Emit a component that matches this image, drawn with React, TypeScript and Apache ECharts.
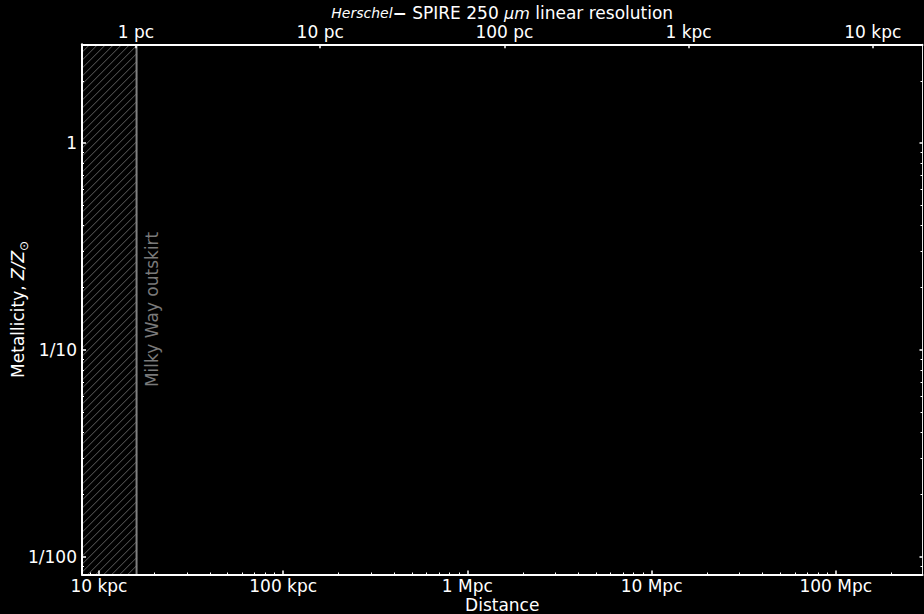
import React, { useEffect, useRef } from 'react';
import * as echarts from 'echarts';

// ---- data ----
const distanceTicksKpc = [10, 100, 1000, 10000, 100000];
const distanceTickLabels = ['10 kpc', '100 kpc', '1 Mpc', '10 Mpc', '100 Mpc'];
const resolutionTicksPc = [1, 10, 100, 1000, 10000];
const resolutionTickLabels = ['1 pc', '10 pc', '100 pc', '1 kpc', '10 kpc'];
const metallicityTicks = [1, 0.1, 0.01];
const metallicityTickLabels = ['1', '1/10', '1/100'];
const distanceRangeKpc = [8.09, 295600];
const metallicityRange = [0.0082, 3.01];
const resolutionPcPerKpc = 0.06295; // top-axis linear resolution (pc) per kpc of distance
const milkyWayOutskirtKpc = [1, 16.0]; // hatched span (distance, kpc)
const milkyWayLabel = 'Milky Way outskirt';

const L = Math.log10;
const FONT = 'DejaVu Sans';

function minorLogs(range: number[]) {
  const out: number[] = [];
  const a = L(range[0]);
  const b = L(range[1]);
  for (let e = Math.floor(a) - 1; e <= Math.ceil(b); e++) {
    for (let k = 2; k <= 9; k++) {
      const v = L(k) + e;
      if (v > a && v < b) out.push(v);
    }
  }
  return out;
}

function labelFor(values: number[], labels: string[]) {
  const logs = values.map((v) => L(v));
  return (val: number) => {
    for (let i = 0; i < logs.length; i++) {
      if (Math.abs(logs[i] - val) < 1e-6) return labels[i];
    }
    return '';
  };
}

export default function App() {
  const ref = useRef<HTMLDivElement>(null);
  useEffect(() => {
    if (!ref.current) return;
    const chart = echarts.init(ref.current, null, { renderer: 'svg' });

    const xMin = L(distanceRangeKpc[0]);
    const xMax = L(distanceRangeKpc[1]);
    const tMin = L(distanceRangeKpc[0] * resolutionPcPerKpc);
    const tMax = L(distanceRangeKpc[1] * resolutionPcPerKpc);
    const yMin = L(metallicityRange[0]);
    const yMax = L(metallicityRange[1]);

    const xMajor = distanceTicksKpc.map((v) => L(v));
    const tMajor = resolutionTicksPc.map((v) => L(v));
    const yMajor = metallicityTicks.map((v) => L(v));
    const xMinor = minorLogs(distanceRangeKpc);
    const yMinor = minorLogs(metallicityRange);

    const gridRect = { left: 82, right: 1.5, top: 44.3, bottom: 39.5 };
    const white = '#ffffff';

    const option: any = {
      animation: false,
      backgroundColor: '#000000',
      grid: [
        { ...gridRect, containLabel: false, outerBoundsMode: 'none' },
        { ...gridRect, containLabel: false, outerBoundsMode: 'none' },
      ],
      xAxis: [
        {
          gridIndex: 0,
          type: 'value',
          position: 'bottom',
          min: xMin,
          max: xMax,
          z: 5,
          axisLine: { show: true, onZero: false, lineStyle: { color: white, width: 2 } },
          axisTick: { show: true, inside: true, length: 4, customValues: xMajor, lineStyle: { color: white, width: 1.5 } },
          axisLabel: {
            show: true,
            customValues: xMajor,
            formatter: labelFor(distanceTicksKpc, distanceTickLabels),
            color: white,
            fontSize: 17,
            fontFamily: FONT,
            margin: 3,
          },
          splitLine: { show: false },
          name: 'Distance',
          nameLocation: 'middle',
          nameGap: 22,
          nameMoveOverlap: false,
          nameTextStyle: { color: white, fontSize: 17, fontFamily: FONT },
        },
        {
          gridIndex: 0,
          type: 'value',
          position: 'top',
          min: tMin,
          max: tMax,
          z: 5,
          axisLine: { show: true, onZero: false, lineStyle: { color: white, width: 2 } },
          axisTick: { show: true, inside: true, length: 4, customValues: tMajor, lineStyle: { color: white, width: 1.5 } },
          axisLabel: {
            show: true,
            customValues: tMajor,
            formatter: labelFor(resolutionTicksPc, resolutionTickLabels),
            color: white,
            fontSize: 17,
            fontFamily: FONT,
            margin: 4,
          },
          splitLine: { show: false },
          name: '{i|Herschel}{m|\u2212} {n|SPIRE 250 }{u|\u03bcm}{n| linear resolution}',
          nameLocation: 'middle',
          nameGap: 22.5,
          nameMoveOverlap: false,
          nameTextStyle: {
            color: white,
            fontSize: 17,
            fontFamily: FONT,
            rich: {
              i: { fontStyle: 'italic', fontSize: 14, color: white, fontFamily: FONT },
              m: { fontSize: 17, fontWeight: 'bold', color: white, fontFamily: FONT },
              n: { fontSize: 17, color: white, fontFamily: FONT },
              u: { fontStyle: 'italic', fontSize: 16, color: white, fontFamily: FONT },
            },
          },
        },
        {
          gridIndex: 1,
          type: 'value',
          position: 'bottom',
          min: xMin,
          max: xMax,
          z: 5,
          axisLine: { show: false, onZero: false },
          axisTick: { show: true, inside: true, length: 2, customValues: xMinor, lineStyle: { color: white, width: 1 } },
          axisLabel: { show: false },
          splitLine: { show: false },
        },
      ],
      yAxis: [
        {
          gridIndex: 0,
          type: 'value',
          position: 'left',
          min: yMin,
          max: yMax,
          z: 5,
          axisLine: { show: true, onZero: false, lineStyle: { color: white, width: 2 } },
          axisTick: { show: true, inside: true, length: 4, customValues: yMajor, lineStyle: { color: white, width: 1.5 } },
          axisLabel: {
            show: true,
            customValues: yMajor,
            formatter: labelFor(metallicityTicks, metallicityTickLabels),
            color: white,
            fontSize: 17,
            fontFamily: FONT,
            margin: 5,
          },
          splitLine: { show: false },
          name: '{n|Metallicity, }{i|Z/Z}{s|\u2299}',
          nameLocation: 'middle',
          nameGap: 56,
          nameMoveOverlap: false,
          nameRotate: 90,
          nameTextStyle: {
            color: white,
            fontSize: 17,
            fontFamily: FONT,
            rich: {
              n: { fontSize: 17, color: white, fontFamily: FONT, verticalAlign: 'bottom' },
              i: { fontSize: 17, fontStyle: 'italic', color: white, fontFamily: FONT, verticalAlign: 'bottom' },
              s: { fontSize: 12, color: white, fontFamily: FONT, verticalAlign: 'bottom', padding: [0, 0, -4, 0] },
            },
          },
        },
        {
          gridIndex: 0,
          type: 'value',
          position: 'right',
          min: yMin,
          max: yMax,
          z: 5,
          axisLine: { show: true, onZero: false, lineStyle: { color: '#e6e6e6', width: 1 } },
          axisTick: { show: true, inside: true, length: 3, customValues: yMajor, lineStyle: { color: white, width: 1.5 } },
          axisLabel: { show: false },
          splitLine: { show: false },
        },
        {
          gridIndex: 1,
          type: 'value',
          position: 'left',
          min: yMin,
          max: yMax,
          z: 5,
          axisLine: { show: false, onZero: false },
          axisTick: { show: true, inside: true, length: 2, customValues: yMinor, lineStyle: { color: white, width: 1 } },
          axisLabel: { show: false },
          splitLine: { show: false },
        },
        {
          gridIndex: 1,
          type: 'value',
          position: 'right',
          min: yMin,
          max: yMax,
          z: 5,
          axisLine: { show: false, onZero: false },
          axisTick: { show: true, inside: true, length: 2, customValues: yMinor, lineStyle: { color: white, width: 1 } },
          axisLabel: { show: false },
          splitLine: { show: false },
        },
      ],
      series: [
        {
          type: 'custom',
          xAxisIndex: 0,
          yAxisIndex: 0,
          z: 1,
          silent: true,
          data: [[L(milkyWayOutskirtKpc[0]), L(milkyWayOutskirtKpc[1]), 0]],
          encode: { x: [0, 1], y: 2 },
          renderItem: (params: any, api: any) => {
            const cs = params.coordSys;
            const xa = Math.max(api.coord([api.value(0), 0])[0], cs.x);
            const xb = api.coord([api.value(1), 0])[0];
            const y0 = cs.y;
            const y1 = cs.y + cs.height;
            const children: any[] = [];
            const step = 8;
            for (let c = xa + y0 - step; c <= xb + y1; c += step) {
              const yA = Math.max(y0, c - xb);
              const yB = Math.min(y1, c - xa);
              if (yB <= yA) continue;
              children.push({
                type: 'line',
                shape: { x1: c - yA, y1: yA, x2: c - yB, y2: yB },
                style: { stroke: '#616161', lineWidth: 1 },
              });
            }
            children.push({
              type: 'line',
              shape: { x1: xb, y1: y0, x2: xb, y2: y1 },
              style: { stroke: '#808080', lineWidth: 2 },
            });
            children.push({
              type: 'text',
              x: xb + 15.5,
              y: (y0 + y1) / 2,
              rotation: Math.PI / 2,
              style: {
                text: milkyWayLabel,
                fill: '#7a7a7a',
                fontSize: 17,
                fontFamily: FONT,
                align: 'center',
                verticalAlign: 'middle',
              },
            });
            return { type: 'group', children };
          },
        },
      ],
    };

    chart.setOption(option);
    return () => chart.dispose();
  }, []);

  return (
    <div
      ref={ref}
      style={{ position: 'fixed', left: 0, top: 0, width: 924, height: 614, background: '#000' }}
    />
  );
}
